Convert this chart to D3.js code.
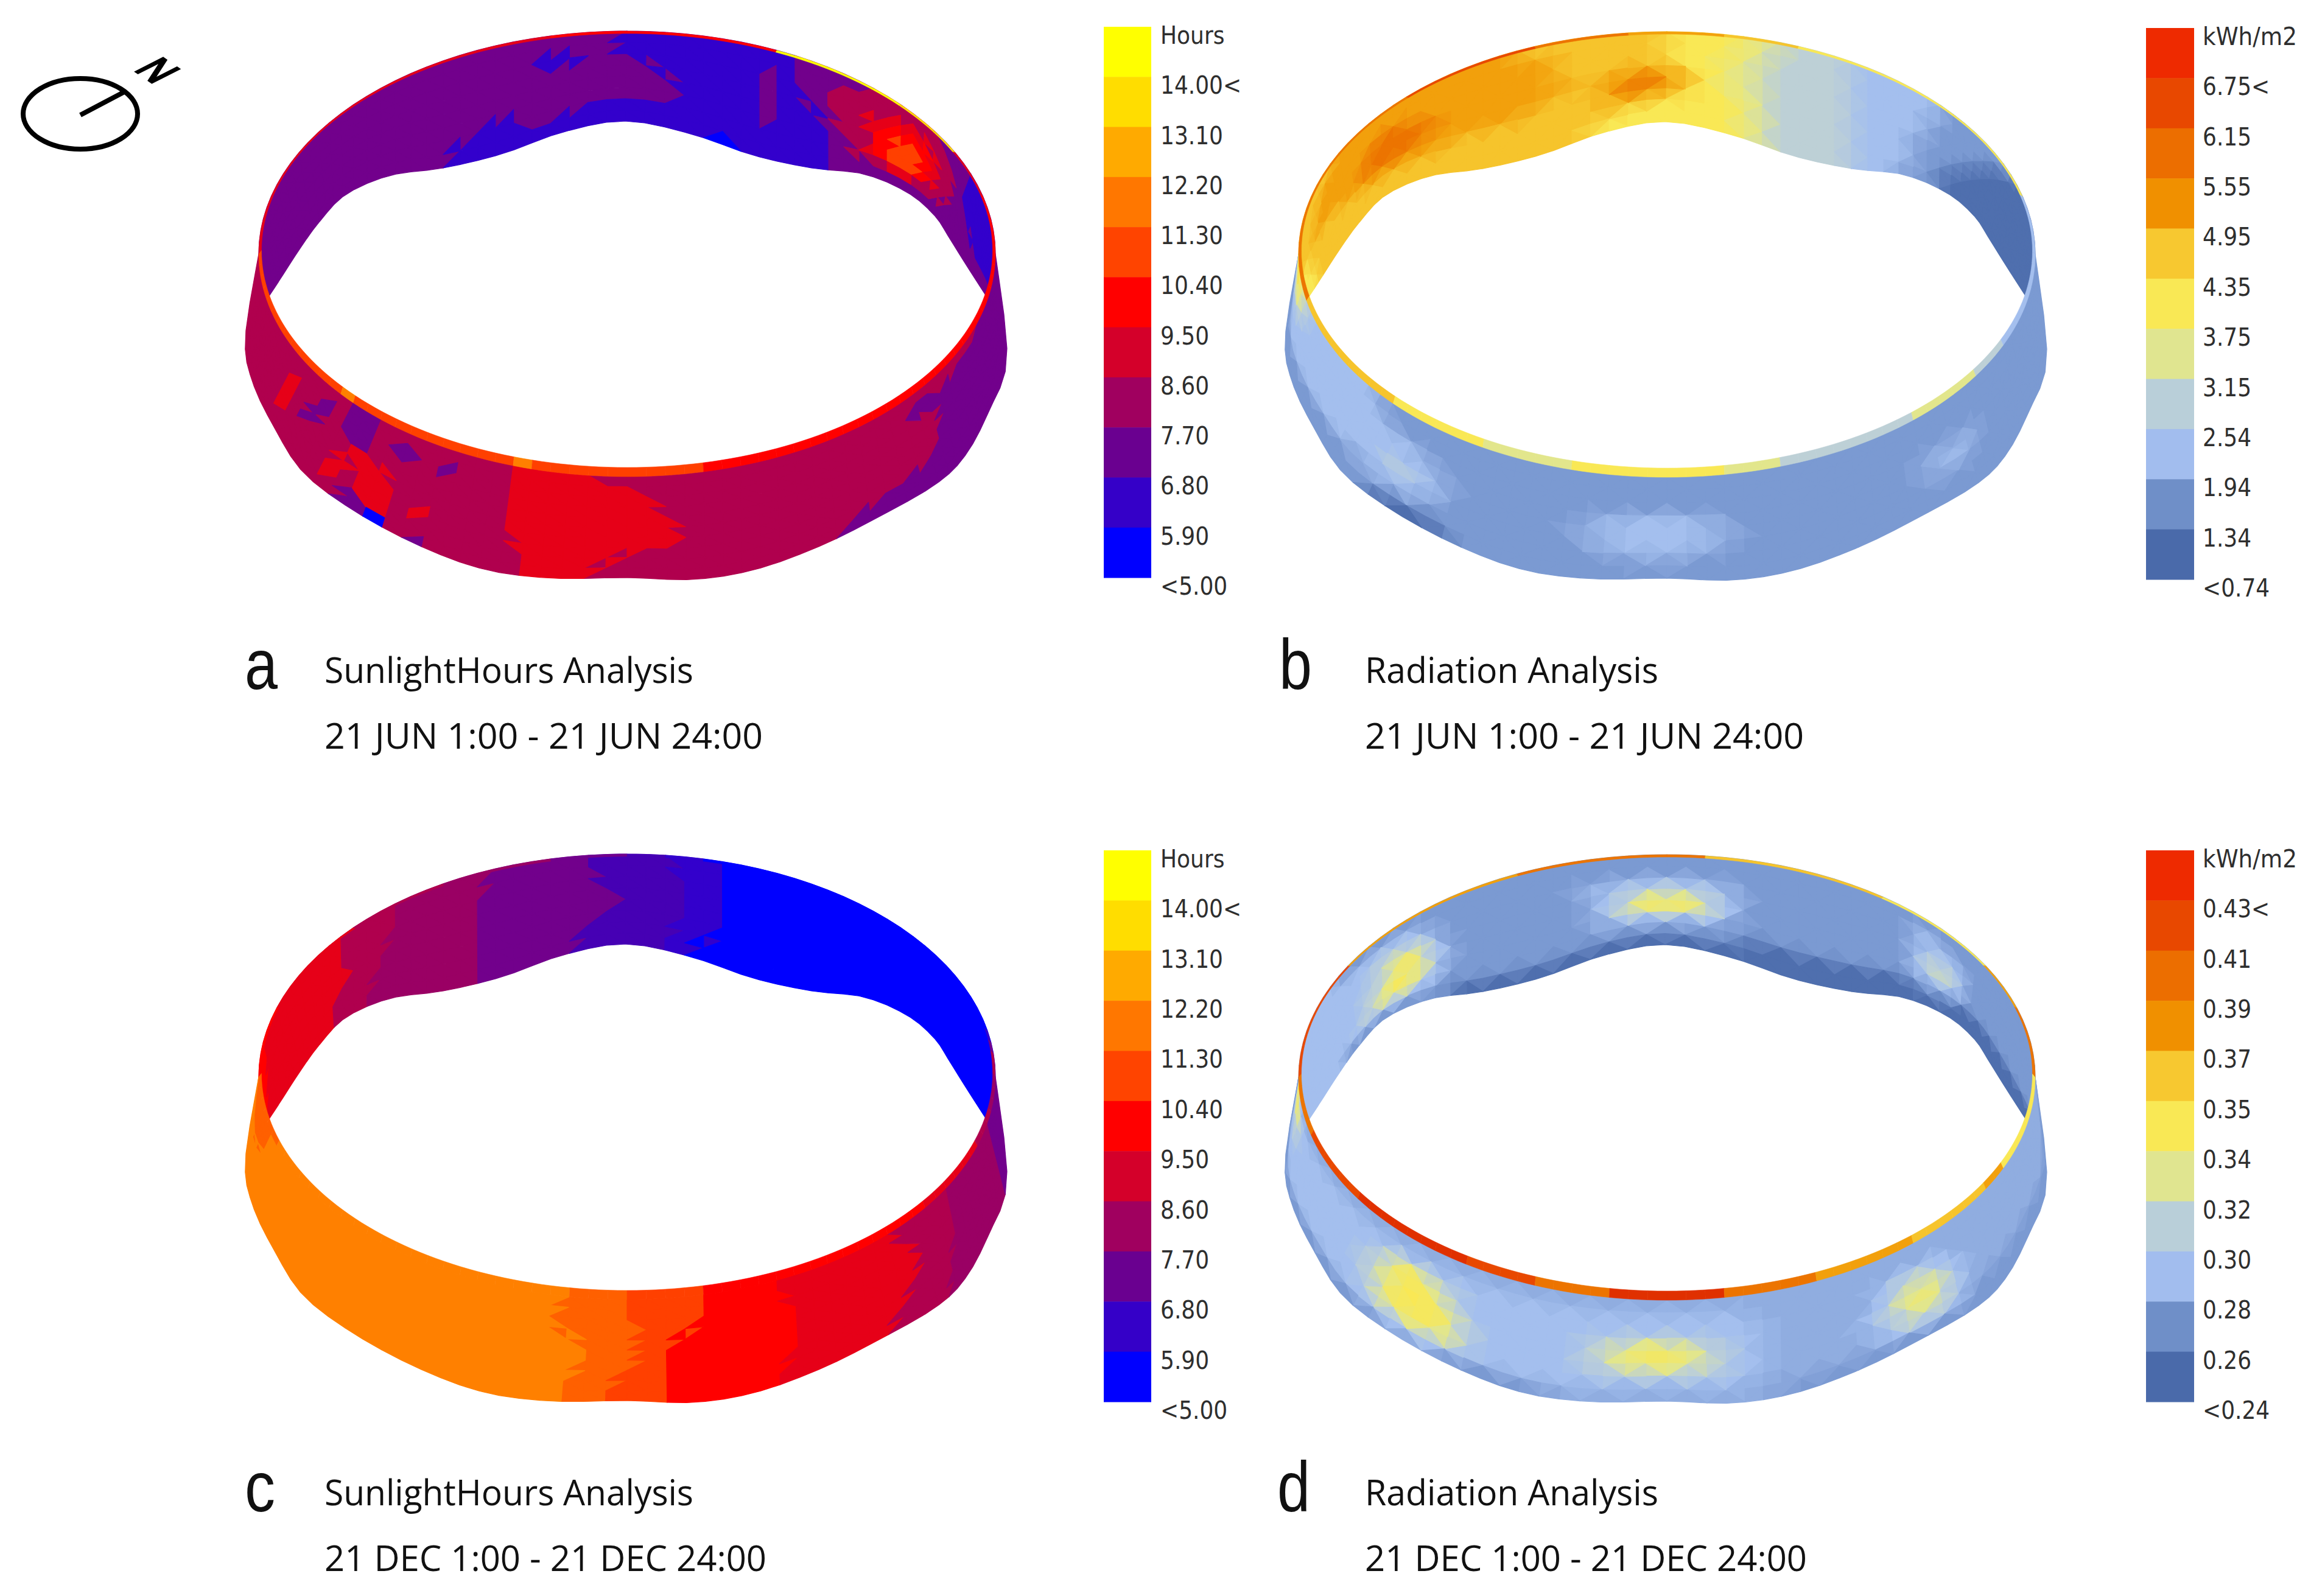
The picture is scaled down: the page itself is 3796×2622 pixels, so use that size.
<!DOCTYPE html>
<html><head><meta charset="utf-8">
<style>html,body{margin:0;padding:0;background:#fff}svg{display:block}</style>
<script src="https://cdn.jsdelivr.net/npm/d3@7"></script></head><body>
<svg id="chart" width="3796" height="2622" viewBox="0 0 3796 2622"></svg>
<script>
// ---------- legends ----------
const hourLabels = ["Hours","14.00<","13.10","12.20","11.30","10.40","9.50","8.60","7.70","6.80","5.90","<5.00"];
const radJuneLabels = ["kWh/m2","6.75<","6.15","5.55","4.95","4.35","3.75","3.15","2.54","1.94","1.34","<0.74"];
const radDecLabels = ["kWh/m2","0.43<","0.41","0.39","0.37","0.35","0.34","0.32","0.30","0.28","0.26","<0.24"];
const hourLegendColors = ["#ffff00","#ffdd00","#ffaa00","#ff7700","#ff4400","#ff0000","#d4002a","#a0005f","#6a0090","#3500c8","#0000ff"];
const radLegendColors = ["#ee2a00","#e84800","#ec6e00","#f09000","#f7c830","#f9e855","#e0e590","#b9cfd9","#a2bdee","#6f8fc8","#4a6aaa"];
// ---------- surface classes ----------
const sunCodes = ["0","1","b","2","c","3","4","5","6","d","7","8","9","a"];
const sunColors = ["#0000ff","#3300cc","#4600b4","#72008c","#9a0064","#b0004e","#e60018","#ff0000","#ff4000","#ff6000","#ff8000","#ffaa00","#ffdd00","#ffff00"];
const radSteps = [0,1,2,3,4,5,6,7,8,9,10];
const radColors = ["#4f6fae","#7b9ad2","#a4bfee","#bdd0d6","#e2e68c","#f9e855","#f6c42c","#f2a00c","#ec7400","#e84800","#e03000"];
// ---------- ring profile, every 10 degrees ----------
const ringRadiusX = 605, ringRadiusY = 366;
const frontEdgeX = [-605,-627,-615,-578,-530,-444,-338,-232,-120,0,108,209,315,410,505,555,594,624,605];
const frontEdgeY = [0,138,211,288,361,425,481,519,533,532,535,519,481,434,380,332,259,170,0];
const backEdgeX = [-589,-570,-539,-505,-461,-388,-302,-206,-105,-3,105,207,303,389,460,505,530,560,591];
const backEdgeY = [71,42,-6,-53,-98,-129,-141,-164,-200,-218,-197,-162,-141,-131,-101,-63,-25,23,71];
// ---------- cell classes: rows run from rim to lower edge, 60 cells left to right ----------
const aBack = [
"2*30 1*9 2*5 3*5 2*4 1*7",
"2*25 1 2 1 2 1*8 2 1 2*2 3*5 4*2 3*3 2*2 1*7",
"2*25 1*2 2*4 1*6 2 1 2*2 3*3 4*2 5*2 4 3*2 2*2 1*7",
"2*32 1*5 2 1*2 2 3*2 4 5*2 6 5*2 4 3*2 2 1*7",
"2*33 1*4 2 1*3 2 3*2 5 6 7 6 5 4 3*2 2 2*2 1*5",
"2*23 1 2*9 1*4 2 1*3 2 3 4 5 6*2 5 4 3*2 2*2 2*3 1*4",
"2*21 1*3 2*3 1*14 2*2 3*2 4*2 3*3 2*3 2*7",
"2*20 1*14 0*2 1*5 2*19"];
const aFront = [
"3*14 2*2 3*8 4*4 3*26 2*6",
"3*12 2 3 2*2 3 2*2 3 2 3*3 4*7 3*15 2*3 3 2*10",
"3*9 4 3*2 2 3 2*2 3 2*2 3 2 3*3 4*7 3*16 2*13",
"3*9 4 3*2 2 3 2*2 3*8 4*8 3*17 2*11",
"3*9 4 3 2 3*3 4*2 3*7 4*8 3*16 2*12",
"3*9 4 3 2 3*3 4*3 3*6 4*9 3*15 2*12",
"3*9 4 3*4 4 3 4*2 3 4 3*4 4*9 3*15 2*12",
"3*9 4 3*4 4 3 4*2 3 4 3*5 4*5 3*16 2*14",
"3*14 4 3 2 4 3*7 4*4 3*14 2*17",
"3*15 2*2 0 3 2 3*5 4*3 3*13 2*19"];
const aRimBack = "4*26 5*12 a*8 9*5 4*4 5*5";
const aRimFront = "6*13 7 6*10 7 6*9 5*26";
const cBack = [
"5*3 4*10 3*4 c*6 2*5 b*4 1*3 0*25",
"5*3 4*10 3*4 c*5 2*6 b*5 1*2 0*25",
"5*3 4*10 3*4 c*5 2*7 b*4 1*2 0*25",
"5*2 4*11 3*3 c*6 2*7 b*4 1*2 0*25",
"5*2 4*12 3*2 c*6 2*8 b*3 1*2 0*25",
"5 4*11 3*4 c*6 2*6 b*5 1*2 0*25",
"5 4*11 3*3 c*7 2*6 b*4 1*2 0*26",
"4*12 3*3 c*7 2*5 b*5 1 0*27"];
const cFront = [
"d*5 7*22 d*3 6*4 5*4 4*7 3*5 c*6 2*4",
"d*5 7*21 d*4 6*4 5*4 4*8 3*4 c*6 2*4",
"d*5 7*21 d*4 6*4 5*5 4*7 3*4 c*6 2*4",
"d*5 7*22 d*4 6*2 5*6 4*8 3*3 c*6 2*4",
"d*4 7*24 d*2 6*2 5*7 4*8 3*3 c*6 2*4",
"d*3 7*25 d*3 6 5*7 4*7 3*4 c*6 2*4",
"d*2 7*26 d*2 6*2 5*7 4*7 3*3 c*7 2*4",
"d 7*26 d*3 6*2 5*7 4*6 3*4 c*7 2*4",
"7*27 d*2 6*3 5*6 4*7 3*4 c*7 2*4",
"7*27 d*2 6*3 5*6 4*6 3*4 c*8 2*4"];
const cRimBack = "5*6 4*8 3*6 c*6 2*4 b*2 1*2 0*22 1 2 3*2";
const cRimFront = "d*6 7*21 d*3 6*4 5*14 4*6 3*3 c*3";
const bBack = [
"6*8 7*14 6*8 5*4 4*2 3*4 2*6 1*7 0*7",
"6*6 7*18 6*6 5*4 4 3*5 2*6 1*5 0*9",
"6*5 7*7 8*3 7*9 6*6 5*3 4*2 3*5 2*5 1*5 0*10",
"6*4 7*7 8*6 7*8 6*2 7*4 5*2 4*2 3*5 2*5 1*4 0*11",
"5*2 6*6 7*3 8*5 7*7 6*4 8*3 7 5*2 4*2 3*5 2*4 1*4 0*12",
"5*2 6*9 7*7 6*9 7*3 5*4 4 3*5 2*4 1*3 0*13",
"5*3 6*25 5*6 4 3*5 2*4 1*2 0*14",
"5*3 6*23 5*8 4 3*5 2*3 1*3 0*14"];
const bFront = [
"5*3 3*2 2*8 1*47",
"6 5*2 3*2 2*9 1*46",
"5*3 3 2*13 1*43",
"5 4 3 2*11 2*3 f*2 1*7 f 2*5 f 1*11 f*4 1*12",
"3*2 2*12 2 3*2 2 f 1*6 f*2 2*5 f*2 1*10 f 2*2 f 1*12",
"2*13 1 2*4 1*8 f 2*5 f 1*11 f*3 1*13",
"1*13 f*4 1*11 f*3 1*29",
"1*15 0*4 1*41"];
const bRimBack = "8*15 9*8 8*5 7*5 6*4 5*18 2*5";
const bRimFront = "8*4 6*10 5*6 4*5 5*8 4*3 3*8 4*5 3*3 2*8";
const dBack = [
"2*9 1*51",
"2*16 1*28 2*2 1*14",
"2*12 3*4 2 1*8 f 2*7 f 1*10 2*4 1*12",
"2*12 3*2 5*2 3 1*9 f 3*2 4*2 3*2 f 1*10 2 3*2 2 1*12",
"2*11 3*3 5*2 3 2 1*8 f 3 5*4 3 1*11 2 4*2 2 1*12",
"2*11 3*2 5*3 3 1*9 f 2*5 f 1*11 2*4 1*12",
"2*10 3*3 4*2 2*2 1*17 0*10 1*3 0*13",
"2*8 1*10 0*42"];
const dFront = [
"4*2 f*58",
"5*3 2*31 f*26",
"5*3 2*11 3 5*2 3*2 2*8 2*8 f*7 3*3 f*15",
"4*3 2*10 3*2 5*3 3 2*7 3*2 4*3 3*2 2*2 f*7 3 4*2 3 f*14",
"3*3 2*10 3*2 5*4 3 2*6 3 4 5*3 4 3 2*2 f*6 3*2 5*2 3 f*14",
"2*14 3 5*4 3 2*6 3*2 4*3 3*2 2*2 f*7 3 4*2 3 f*14",
"2*14 3*2 4*3 3 2*14 f*8 3*4 1*14",
"1*15 f*4 1*5 f*12 1*24"];
const dRimBack = "9*10 7*12 8*10 6*10 5*8 7*4 8*6";
const dRimFront = "8*5 9*6 a*8 9*4 8*4 a*6 8*5 7*6 6*6 7*2 5*8";
// ---------- captions ----------
const panelLetters = ["a","b","c","d"];
const panelTitles = ["SunlightHours Analysis","Radiation Analysis","SunlightHours Analysis","Radiation Analysis"];
const panelDates = ["21 JUN 1:00 - 21 JUN 24:00","21 JUN 1:00 - 21 JUN 24:00","21 DEC 1:00 - 21 DEC 24:00","21 DEC 1:00 - 21 DEC 24:00"];

const svg = d3.select("#chart");
const sunScale = d3.scaleOrdinal(sunCodes, sunColors);
const radScale = d3.scaleLinear(radSteps, radColors);
const levelOf = c => c === "f" ? 1.5 : parseInt(c, 16);
const decode = s => {
  const out = [];
  s.split(" ").forEach(t => { const [c, n] = t.split("*"); for (let k = 0; k < (+n || 1); k++) out.push(c); });
  while (out.length < 60) out.push(out[out.length - 1]);
  return out.slice(0, 60);
};

function catmull(xs, t) {
  const n = xs.length - 1, u = Math.min(Math.max(t, 0), 1) * n, k = Math.min(Math.floor(u), n - 1), f = u - k;
  const p0 = xs[Math.max(k - 1, 0)], p1 = xs[k], p2 = xs[k + 1], p3 = xs[Math.min(k + 2, n)];
  return 0.5 * (2 * p1 + (p2 - p0) * f + (2 * p0 - 5 * p1 + 4 * p2 - p3) * f * f + (3 * p1 - p0 - 3 * p2 + p3) * f * f * f);
}

function drawRing(g, cx, cy, cfg) {
  const sx = d3.scaleLinear([-ringRadiusX, ringRadiusX], [cx - ringRadiusX, cx + ringRadiusX]);
  const sy = d3.scaleLinear([-ringRadiusY, ringRadiusY], [cy - ringRadiusY, cy + ringRadiusY]);
  const line = d3.line().x(d => sx(d[0])).y(d => sy(d[1]));
  const wall = (rows, sign, ex, ey) => {
    const grid = rows.map(decode), R = grid.length, N = 60;
    const at = (i, r) => {
      const t = i / N, a = Math.PI * t;
      const top = [-ringRadiusX * Math.cos(a), sign * ringRadiusY * Math.sin(a)];
      const low = [catmull(ex, t), catmull(ey, t)];
      const v = r / R;
      return [top[0] + (low[0] - top[0]) * v, top[1] + (low[1] - top[1]) * v];
    };
    const buckets = new Map();
    const add = (col, d) => { if (!buckets.has(col)) buckets.set(col, []); buckets.get(col).push(d); };
    const clampCell = (a, b) => grid[Math.max(0, Math.min(R - 1, b))][Math.max(0, Math.min(N - 1, a))];
    const soft = (a, b) => (levelOf(clampCell(a - 1, b)) + 2 * levelOf(clampCell(a, b)) + levelOf(clampCell(a + 1, b))) / 4;
    for (let r = 0; r < R; r++) for (let i = 0; i < N; i++) {
      const p00 = at(i, r), p10 = at(i + 1, r), p01 = at(i, r + 1), p11 = at(i + 1, r + 1);
      if (cfg.flat) {
        const c = clampCell(i, r), fill = x => sunScale(x);
        const L = clampCell(i - 1, r), Rt = clampCell(i + 1, r), U = clampCell(i, r - 1), D = clampCell(i, r + 1);
        if ((L === U && L !== c) || (Rt === D && Rt !== c)) {
          add(fill(L === U && L !== c ? L : c), line([p00, p10, p01]) + "Z");
          add(fill(Rt === D && Rt !== c ? Rt : c), line([p10, p11, p01]) + "Z");
        } else {
          add(fill(Rt === U && Rt !== c ? Rt : c), line([p00, p10, p11]) + "Z");
          add(fill(L === D && L !== c ? L : c), line([p00, p11, p01]) + "Z");
        }
      } else {
        const c = soft(i, r), l = soft(i - 1, r), rr = soft(i + 1, r), u = soft(i, r - 1), dn = soft(i, r + 1);
        const q = x => radScale(Math.round(x * 6) / 6);
        if ((i + r) % 2) {
          add(q((2 * c + l + u) / 4), line([p00, p10, p01]) + "Z");
          add(q((2 * c + rr + dn) / 4), line([p10, p11, p01]) + "Z");
        } else {
          add(q((2 * c + l + dn) / 4), line([p00, p11, p01]) + "Z");
          add(q((2 * c + rr + u) / 4), line([p00, p10, p11]) + "Z");
        }
      }
    }
    g.append("g").selectAll("path").data([...buckets]).join("path")
      .attr("d", d => d[1].join("")).attr("fill", d => d[0]).attr("stroke", d => d[0]).attr("stroke-width", 1.2).attr("stroke-linejoin", "round");
  };
  wall(cfg.back, -1, backEdgeX, backEdgeY);
  wall(cfg.front, 1, frontEdgeX, frontEdgeY);
  // rim: thin top face between outer and inner ellipses
  const rim = (str, sign) => {
    const cells = decode(str);
    const fill = c => cfg.flat ? sunScale(c) : radScale(levelOf(c));
    g.append("g").selectAll("path").data(cells).join("path")
      .attr("d", (c, i) => {
        const pts = [];
        for (let k = 0; k <= 2; k++) { const a = Math.PI * (i + k / 2) / 60; pts.push([-ringRadiusX * Math.cos(a), sign * ringRadiusY * Math.sin(a)]); }
        for (let k = 2; k >= 0; k--) { const a = Math.PI * (i + k / 2) / 60; pts.push([-600.5 * Math.cos(a), -5.5 + sign * 356.5 * Math.sin(a)]); }
        return line(pts) + "Z";
      })
      .attr("fill", fill).attr("stroke", fill).attr("stroke-width", 0.6);
  };
  rim(cfg.rimBack, -1);
  rim(cfg.rimFront, 1);
}

function drawLegend(g, x0, x1, y0, y1, colors, labels, tx) {
  const y = d3.scaleBand(d3.range(colors.length), [y0, y1]).paddingInner(0);
  g.append("g").selectAll("rect").data(colors).join("rect")
    .attr("x", x0).attr("width", x1 - x0).attr("y", (d, i) => y(i)).attr("height", y.bandwidth() + 0.5).attr("fill", d => d);
  g.append("g").selectAll("text").data(labels).join("text")
    .attr("x", tx).attr("y", (d, i) => y0 + i * y.step() + 28)
    .attr("font-family", "'DejaVu Sans Condensed','DejaVu Sans',sans-serif").attr("font-size", 40)
    .attr("font-stretch", "condensed").attr("fill", "#2e2e2e")
    .each(function (d) { if (d === "kWh/m2") d3.select(this).attr("textLength", 155).attr("lengthAdjust", "spacingAndGlyphs"); })
    .text(d => d);
}

const rings = [
  {cx:1030,cy:417,flat:true,back:aBack,front:aFront,rimBack:aRimBack,rimFront:aRimFront},
  {cx:2738,cy:418,flat:false,back:bBack,front:bFront,rimBack:bRimBack,rimFront:bRimFront},
  {cx:1030,cy:1769,flat:true,back:cBack,front:cFront,rimBack:cRimBack,rimFront:cRimFront},
  {cx:2738,cy:1770,flat:false,back:dBack,front:dFront,rimBack:dRimBack,rimFront:dRimFront}
];
rings.forEach(r => drawRing(svg.append("g"), r.cx, r.cy, r));

const legends = [
  [1813,1891,44,949,hourLegendColors,hourLabels,1906],
  [3525,3604,46,952,radLegendColors,radJuneLabels,3618],
  [1813,1891,1397,2303,hourLegendColors,hourLabels,1906],
  [3525,3604,1397,2303,radLegendColors,radDecLabels,3618]
];
legends.forEach(l => drawLegend(svg.append("g"), ...l));

// captions
const capX = [533,2242,533,2242], letterX = [402,2101,402,2098];
const capY = [1122,1122,2473,2473];
const titleLen = [606,482,606,482], dateLen = [720,721,726,726];
const cap = svg.append("g").attr("fill", "#111");
panelLetters.forEach((t, i) => {
  cap.append("text").attr("x", letterX[i]).attr("y", capY[i] + 10)
    .attr("font-family", "'Liberation Sans',sans-serif").attr("font-size", 116)
    .attr("textLength", i === 2 ? 50 : 54).attr("lengthAdjust", "spacingAndGlyphs").text(t);
  cap.append("text").attr("x", capX[i]).attr("y", capY[i])
    .attr("font-family", "'Open Sans',sans-serif").attr("font-size", 58)
    .attr("textLength", titleLen[i]).attr("lengthAdjust", "spacingAndGlyphs").text(panelTitles[i]);
  cap.append("text").attr("x", capX[i]).attr("y", capY[i] + 108)
    .attr("font-family", "'Open Sans',sans-serif").attr("font-size", 58)
    .attr("textLength", dateLen[i]).attr("lengthAdjust", "spacingAndGlyphs").text(panelDates[i]);
});

// north marker
const north = svg.append("g");
north.append("ellipse").attr("cx", 132).attr("cy", 187).attr("rx", 94).attr("ry", 58)
  .attr("fill", "none").attr("stroke", "#000").attr("stroke-width", 8);
north.append("line").attr("x1", 132).attr("y1", 189).attr("x2", 206).attr("y2", 150)
  .attr("stroke", "#000").attr("stroke-width", 8);
north.append("text").attr("transform", "matrix(0.48,0.33,-0.65,0.33,219,115)")
  .attr("font-family", "'Liberation Sans',sans-serif").attr("font-size", 100).attr("fill", "#000")
  .attr("stroke", "#000").attr("stroke-width", 5).text("N");
</script></body></html>
